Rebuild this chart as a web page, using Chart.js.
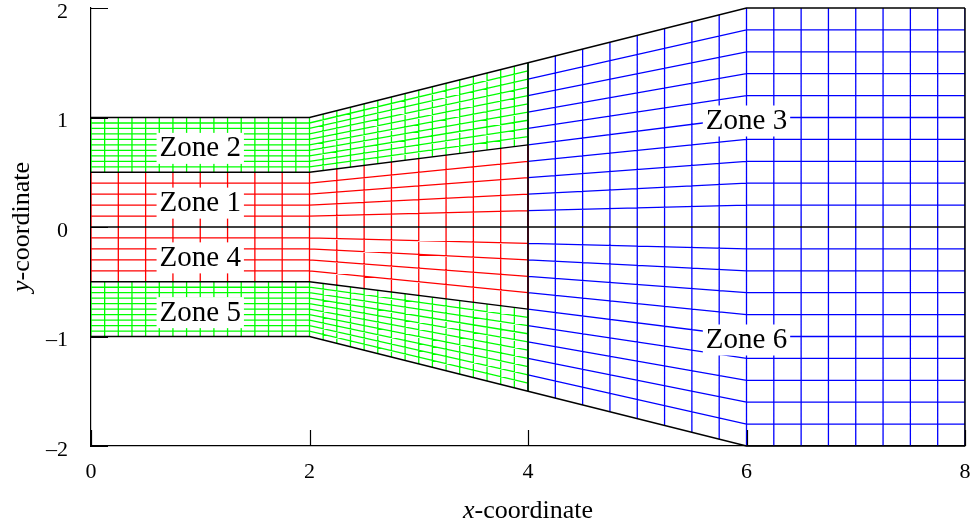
<!DOCTYPE html>
<html>
<head>
<meta charset="utf-8">
<script src="https://cdn.jsdelivr.net/npm/chart.js@4/dist/chart.umd.min.js"></script>
<style>html,body{margin:0;padding:0;background:#fff}canvas{display:block}</style>
</head>
<body>
<canvas id="c" width="972" height="525"></canvas>
<script>
const xTicks = [0, 2, 4, 6, 8];
const yTicks = [-2, -1, 0, 1, 2];

// upper half of the block outlines (lower half is the mirror image)
const innerXs = [0, 2, 4];
const coreTop = [0.5, 0.5, 0.75];   // zone 1 top = zone 2 bottom
const outerTop = [1, 1, 1.5];       // zone 2 top
const farXs = [4, 6, 8];
const farTop = [1.5, 2, 2];         // zone 3 top
const zeroLine = [0, 0, 0];

// mesh stations
const redX = [0, 0.25, 0.5, 0.75, 1, 1.25, 1.5, 1.75, 2, 2.25, 2.5, 2.75, 3, 3.25, 3.5, 3.75, 4];
const greenX = [0, 0.125, 0.25, 0.375, 0.5, 0.625, 0.75, 0.875, 1, 1.125, 1.25, 1.375, 1.5, 1.625, 1.75, 1.875,
  2, 2.125, 2.25, 2.375, 2.5, 2.625, 2.75, 2.875, 3, 3.125, 3.25, 3.375, 3.5, 3.625, 3.75, 3.875, 4];
const blueX = [4, 4.25, 4.5, 4.75, 5, 5.25, 5.5, 5.75, 6, 6.25, 6.5, 6.75, 7, 7.25, 7.5, 7.75, 8];
const redFrac = [0.2, 0.4, 0.6, 0.8];
const greenFrac = [0.1, 0.2, 0.3, 0.4, 0.5, 0.6, 0.7, 0.8, 0.9];
const blueFrac = [0.1, 0.2, 0.3, 0.4, 0.5, 0.6, 0.7, 0.8, 0.9];

const zoneNames = ['Zone 1', 'Zone 2', 'Zone 3', 'Zone 4', 'Zone 5', 'Zone 6'];
const zoneX = [1, 1, 6, 1, 1, 6];
const zoneY = [0.25, 0.75, 1, -0.25, -0.75, -1];

const SERIF = '"Liberation Serif", "Times New Roman", serif';
const GAP = {x: null, y: null};

function edgeAt(xs, ys, x) {
  for (let i = 1; i < xs.length; i++) {
    if (x <= xs[i]) return ys[i - 1] + (x - xs[i - 1]) / (xs[i] - xs[i - 1]) * (ys[i] - ys[i - 1]);
  }
  return ys[ys.length - 1];
}

// grid lines of one block: constant-fraction lines plus vertical stations
function mesh(xs, lo, hi, stations, fracs, sign) {
  const pts = [];
  for (const f of fracs) {
    xs.forEach((x, i) => pts.push({x, y: sign * (lo[i] + f * (hi[i] - lo[i]))}));
    pts.push(GAP);
  }
  for (const x of stations) {
    pts.push({x, y: sign * edgeAt(xs, lo, x)}, {x, y: sign * edgeAt(xs, hi, x)}, GAP);
  }
  return pts;
}
const poly = (xs, ys, sign) => xs.map((x, i) => ({x, y: sign * ys[i]}));

const meshSet = (data, color) => ({data, borderColor: color, borderWidth: 1.3, showLine: true,
  pointRadius: 0, spanGaps: false, order: 2});
const edgeSet = data => ({data, borderColor: '#000', borderWidth: 1.5, showLine: true,
  pointRadius: 0, spanGaps: false, clip: false, order: 1});

const datasets = [
  meshSet(mesh(innerXs, zeroLine, coreTop, redX, redFrac, 1), '#ff0000'),
  meshSet(mesh(innerXs, zeroLine, coreTop, redX, redFrac, -1), '#ff0000'),
  meshSet(mesh(innerXs, coreTop, outerTop, greenX, greenFrac, 1), '#00ff00'),
  meshSet(mesh(innerXs, coreTop, outerTop, greenX, greenFrac, -1), '#00ff00'),
  meshSet(mesh(farXs, zeroLine, farTop, blueX, blueFrac, 1), '#0000ff'),
  meshSet(mesh(farXs, zeroLine, farTop, blueX, blueFrac, -1), '#0000ff'),
  edgeSet([{x: 0, y: 0}, {x: 8, y: 0}]),
  edgeSet(poly(innerXs, coreTop, 1)), edgeSet(poly(innerXs, coreTop, -1)),
  edgeSet(poly(innerXs, outerTop, 1)), edgeSet(poly(innerXs, outerTop, -1)),
  edgeSet(poly(farXs, farTop, 1)), edgeSet(poly(farXs, farTop, -1)),
  edgeSet([{x: 4, y: -1.5}, {x: 4, y: 1.5}]),
  edgeSet([{x: 8, y: -2}, {x: 8, y: 2}]),
];

const decor = {
  id: 'decor',
  afterDatasetsDraw(chart) {
    const {ctx, chartArea: a, scales: {x, y}} = chart;
    ctx.save();
    // inward tick marks
    ctx.strokeStyle = '#000'; ctx.lineWidth = 1.2;
    ctx.beginPath();
    for (const v of yTicks) { const p = Math.round(y.getPixelForValue(v)) + 0.5; ctx.moveTo(a.left, p); ctx.lineTo(a.left + 17, p); }
    for (const v of xTicks) { const p = Math.round(x.getPixelForValue(v)) + 0.5; ctx.moveTo(p, a.bottom); ctx.lineTo(p, a.bottom - 16); }
    ctx.stroke();

    // zone labels on white boxes
    ctx.font = '29px ' + SERIF;
    ctx.textAlign = 'center'; ctx.textBaseline = 'middle';
    zoneNames.forEach((name, i) => {
      const px = x.getPixelForValue(zoneX[i]), py = y.getPixelForValue(zoneY[i]) + 4;
      const w = ctx.measureText(name).width + 6;
      ctx.fillStyle = '#fff';
      ctx.fillRect(px - w / 2, py - 16, w, 31);
      ctx.fillStyle = '#000';
      ctx.fillText(name, px, py);
    });

    // axis titles with italic variable
    const title = (v, rest, cx, cy, rot) => {
      ctx.save();
      ctx.translate(cx, cy); ctx.rotate(rot);
      ctx.textAlign = 'left'; ctx.textBaseline = 'alphabetic';
      ctx.font = 'italic 26px ' + SERIF; const w1 = ctx.measureText(v).width;
      ctx.font = '26px ' + SERIF; const w2 = ctx.measureText(rest).width;
      const s = -(w1 + w2) / 2;
      ctx.font = 'italic 26px ' + SERIF; ctx.fillText(v, s, 0);
      ctx.font = '26px ' + SERIF; ctx.fillText(rest, s + w1, 0);
      ctx.restore();
    };
    title('x', '-coordinate', (a.left + a.right) / 2, 518, 0);
    title('y', '-coordinate', 29, (a.top + a.bottom) / 2, -Math.PI / 2);
    ctx.restore();
  }
};

const tickLabel = v => v < 0 ? '\u2013' + Math.abs(v) : String(v);
const noPad = s => { s.paddingTop = 0; s.paddingBottom = 0; s.paddingLeft = 0; s.paddingRight = 0; };

new Chart(document.getElementById('c'), {
  type: 'scatter',
  data: {datasets},
  options: {
    responsive: false, animation: false, devicePixelRatio: 1,
    layout: {padding: {top: 8, right: 7, left: 0, bottom: 0}},
    plugins: {legend: {display: false}, tooltip: {enabled: false}},
    scales: {
      x: {
        type: 'linear', min: 0, max: 8,
        afterBuildTicks: s => { s.ticks = xTicks.map(value => ({value})); },
        afterFit: s => { s.height = 79; noPad(s); },
        grid: {display: false},
        border: {display: true, color: '#000', width: 1.2},
        ticks: {color: '#000', padding: 5, maxRotation: 0, font: {family: SERIF, size: 22}, callback: tickLabel}
      },
      y: {
        type: 'linear', min: -2, max: 2,
        afterBuildTicks: s => { s.ticks = yTicks.map(value => ({value})); },
        afterFit: s => { s.width = 91; noPad(s); },
        grid: {display: false},
        border: {display: true, color: '#000', width: 1.2},
        ticks: {color: '#000', padding: 15, labelOffset: 4, font: {family: SERIF, size: 22}, callback: tickLabel}
      }
    }
  },
  plugins: [decor]
});
</script>
</body>
</html>
